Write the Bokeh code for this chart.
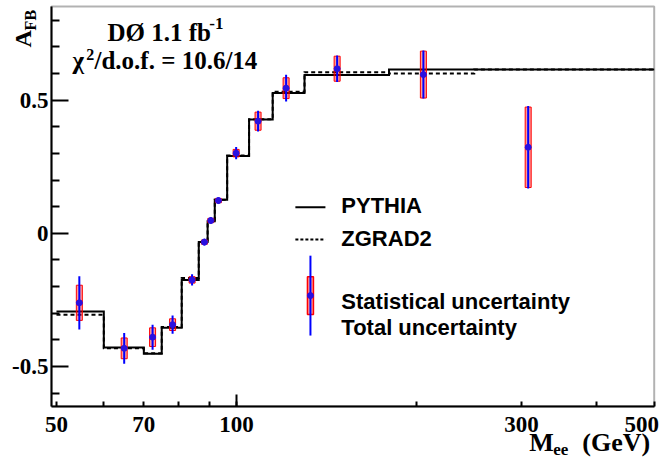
from bokeh.plotting import figure
from bokeh.models import Range1d, FixedTicker, Label, LogAxis, BoxAnnotation
from bokeh.embed import file_html
from bokeh.resources import INLINE

# ---- data ----
bin_edges = [50, 60, 70, 75, 81, 86.5, 89.5, 92, 96.5, 105, 115, 130, 180, 250, 500]
pythia = [-0.294, -0.429, -0.452, -0.355, -0.175, -0.033, 0.045, 0.126, 0.290, 0.427, 0.527, 0.594, 0.615, 0.615]
zgrad2 = [-0.306, -0.432, -0.450, -0.352, -0.168, -0.033, 0.045, 0.126, 0.292, 0.428, 0.532, 0.605, 0.600, 0.615]

mass = [54.6, 64.9, 72.4, 78.2, 84.3, 88.4, 90.6, 93.3, 99.9, 108.7, 121.1, 147.4, 205.5, 307.7]
afb = [-0.261, -0.432, -0.390, -0.343, -0.175, -0.033, 0.048, 0.123, 0.301, 0.421, 0.545, 0.618, 0.596, 0.323]
stat_err = [0.066, 0.039, 0.035, 0.022, 0.012, 0.008, 0.008, 0.008, 0.014, 0.034, 0.039, 0.047, 0.088, 0.151]
total_err = [0.100, 0.058, 0.047, 0.034, 0.021, 0.013, 0.012, 0.012, 0.023, 0.039, 0.050, 0.050, 0.090, 0.155]

x_major_ticks = [50, 70, 100, 300, 500]
x_minor_ticks = [60, 80, 90, 200, 400]
x_long_ticks = [100]
y_major_ticks = [-0.5, 0, 0.5]
y_minor_ticks = [-0.6, -0.4, -0.3, -0.2, -0.1, 0.1, 0.2, 0.3, 0.4, 0.6, 0.7, 0.8]

# axes box (data coords)
box_x = (49.04, 500.0)
box_y = (-0.649, 0.852)

# ---- legend placement (data coords) ----
leg_line_x = [125.5, 140.9]
leg_text_x = 149.8
leg_pythia_y = 0.098
leg_zgrad_y = -0.023
leg_mark_x = 133.0
leg_mark_y = -0.234
leg_mark_stat = 0.071
leg_mark_tot = 0.15

SERIF = "Liberation Serif"
SANS = "Liberation Sans"
NB = "\u00a0"

p = figure(width=670, height=459, x_axis_type="log",
           x_range=Range1d(40.30, 532.4), y_range=Range1d(-0.8494, 0.8742),
           output_backend="svg", toolbar_location=None, min_border=0)

p.xgrid.visible = False
p.ygrid.visible = False
p.outline_line_color = None
p.background_fill_color = "white"


def style_axis(ax):
    ax.axis_line_width = 2
    ax.axis_line_color = "black"
    ax.major_tick_line_width = 2
    ax.minor_tick_line_width = 2
    ax.major_tick_line_color = "black"
    ax.minor_tick_line_color = "black"
    ax.major_tick_out = 0
    ax.minor_tick_out = 0
    ax.major_label_text_font = SERIF
    ax.major_label_text_font_style = "bold"
    ax.major_label_text_font_size = "23px"
    ax.major_label_text_color = "black"


xa = p.xaxis[0]
ya = p.yaxis[0]
style_axis(xa)
style_axis(ya)

xa.fixed_location = box_y[0]
xa.bounds = box_x
xa.ticker = FixedTicker(ticks=x_major_ticks, minor_ticks=x_minor_ticks)
xa.major_tick_in = 5
xa.minor_tick_in = 5
xa.major_label_overrides = {50: "50", 70: "70", 100: "100", 300: "300", 500: "500" + NB * 2}
xa.major_label_standoff = 6

ya.fixed_location = box_x[0]
ya.bounds = box_y
ya.ticker = FixedTicker(ticks=y_major_ticks, minor_ticks=y_minor_ticks)
ya.major_tick_in = 17
ya.minor_tick_in = 8
ya.major_label_overrides = {-0.5: "-0.5", 0: "0", 0.5: "0.5"}
ya.major_label_standoff = 3

# long tick at 100 (no label drawn)
long_ax = LogAxis(fixed_location=box_y[0], ticker=FixedTicker(ticks=x_long_ticks, minor_ticks=[]))
style_axis(long_ax)
long_ax.axis_line_color = None
long_ax.major_tick_in = 12
long_ax.major_label_text_color = None
p.add_layout(long_ax, "below")

# box around the plotting area
p.add_layout(BoxAnnotation(left=box_x[0], right=box_x[1], bottom=box_y[0], top=box_y[1],
                           fill_color=None, fill_alpha=0, line_color="black", line_width=2))

# ---- theory histograms ----
p.step(x=bin_edges, y=pythia + [pythia[-1]], mode="after",
       line_color="black", line_width=2, line_join="miter")
p.step(x=bin_edges, y=zgrad2 + [zgrad2[-1]], mode="after",
       line_color="black", line_width=2, line_dash="4 3", line_join="miter")

# ---- data points ----
y_lo = [a - t for a, t in zip(afb, total_err)]
y_hi = [a + t for a, t in zip(afb, total_err)]
box_h = [2 * s for s in stat_err]
p.rect(x=mass, y=afb, width=6, height=box_h, width_units="screen",
       fill_color="red", fill_alpha=0.4, line_color="red", line_width=1)
p.segment(x0=mass, y0=y_lo, x1=mass, y1=y_hi, line_color="blue", line_width=2)
p.scatter(x=mass, y=afb, size=6, fill_color="#2a10e0", line_color="#2a10e0")

# ---- legend ----
p.line(x=leg_line_x, y=[leg_pythia_y, leg_pythia_y], line_color="black", line_width=2)
p.line(x=leg_line_x, y=[leg_zgrad_y, leg_zgrad_y], line_color="black", line_width=2, line_dash="3 2")
p.rect(x=[leg_mark_x], y=[leg_mark_y], width=6, height=[2 * leg_mark_stat], width_units="screen",
       fill_color="red", fill_alpha=0.4, line_color="red", line_width=1.5)
p.segment(x0=[leg_mark_x], y0=[leg_mark_y - leg_mark_tot], x1=[leg_mark_x],
          y1=[leg_mark_y + leg_mark_tot], line_color="blue", line_width=2)
p.scatter(x=[leg_mark_x], y=[leg_mark_y], size=6, fill_color="#2a10e0", line_color="#2a10e0")


def lab(text, x, y, font, size, angle=0.0):
    p.add_layout(Label(x=x, y=y, text=text, text_font=font, text_font_style="bold",
                       text_font_size=size, text_color="black", text_baseline="alphabetic",
                       text_align="left", angle=angle))


lab("PYTHIA", leg_text_x, 0.1033, SANS, "22px")
lab("ZGRAD2", leg_text_x, -0.0195, SANS, "22px")
lab("Statistical uncertainty", leg_text_x, -0.2572, SANS, "22px")
lab("Total uncertainty", leg_text_x, -0.3537, SANS, "22px")

# ---- header texts ----
lab("D\u00d8 1.1 fb", 60.85, 0.754, SERIF, "25px")
lab("-1", 90.1, 0.786, SERIF, "17px")
lab("\u03c7", 53.17, 0.648, SERIF, "25px")
lab("2", 56.10, 0.673, SERIF, "16px")
lab("/d.o.f. = 10.6/14", 57.88, 0.648, SERIF, "25px")

# ---- axis titles ----
lab("A", 43.88, 0.698, SERIF, "24px", angle=1.5708)
lab("FB", 45.24, 0.762, SERIF, "16px", angle=1.5708)
lab("M", 309.0, -0.786, SERIF, "26px")
lab("ee", 338.9, -0.813, SERIF, "17px")
lab("(GeV)", 379.0, -0.786, SERIF, "26px")

open("out.html", "w").write(file_html(p, INLINE))
